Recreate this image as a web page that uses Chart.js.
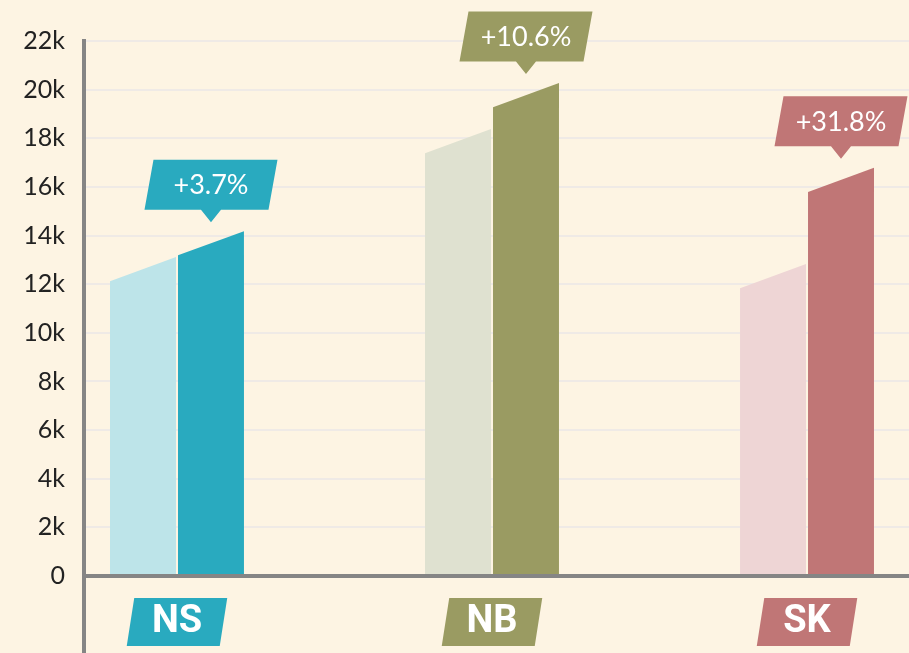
<!DOCTYPE html>
<html>
<head>
<meta charset="utf-8">
<script src="https://cdn.jsdelivr.net/npm/chart.js@4.4.0/dist/chart.umd.min.js"></script>
<style>
html,body{margin:0;padding:0;background:#fdf4e3;overflow:hidden}
#wrap{width:909px;height:653px;position:relative}
</style>
</head>
<body>
<div id="wrap"><canvas id="c"></canvas></div>
<script>
// ---- data ----
const categories = ['NS', 'NB', 'SK'];
const previousValues = [13250, 18570, 12960];
const currentValues = [14330, 20480, 16960];
const changeLabels = ['+3.7%', '+10.6%', '+31.8%'];
const yTickLabels = ['0', '2k', '4k', '6k', '8k', '10k', '12k', '14k', '16k', '18k', '20k', '22k'];

// ---- styles ----
const lightColors = ['#bde4e9', '#dfe1d0', '#eed5d5'];
const darkColors = ['#29aabf', '#9a9b62', '#c07676'];
const AXIS_COLOR = '#858585';
const GRID_COLOR = '#efeae6';
const SLANT_UNITS = 1000;

const slantBars = {
  id: 'slantBars',
  beforeDraw(chart) {
    const {ctx, width, height} = chart;
    ctx.save();
    ctx.fillStyle = '#fdf4e3';
    ctx.fillRect(0, 0, width, height);
    // category badges behind tick labels
    const xs = chart.scales.x;
    const cy = chart.chartArea.bottom + 46;
    const hw = 46.5, hh = 24, sk = 3.75;
    xs.ticks.forEach((t) => {
      const cx = xs.getPixelForValue(t.value);
      const idx = Math.round(t.value);
      ctx.fillStyle = darkColors[idx];
      ctx.beginPath();
      ctx.moveTo(cx - hw + sk, cy - hh);
      ctx.lineTo(cx + hw + sk, cy - hh);
      ctx.lineTo(cx + hw - sk, cy + hh);
      ctx.lineTo(cx - hw - sk, cy + hh);
      ctx.closePath();
      ctx.fill();
    });
    ctx.restore();
  },
  beforeDatasetDraw(chart, args) {
    const {ctx} = chart;
    const ys = chart.scales.y;
    const slant = ys.getPixelForValue(0) - ys.getPixelForValue(SLANT_UNITS);
    ctx.save();
    args.meta.data.forEach((bar) => {
      const p = bar.getProps(['x', 'y', 'base', 'width'], true);
      const l = p.x - p.width / 2, r = p.x + p.width / 2;
      ctx.fillStyle = bar.options.backgroundColor;
      ctx.beginPath();
      ctx.moveTo(l, p.base);
      ctx.lineTo(l, p.y + slant);
      ctx.lineTo(r, p.y);
      ctx.lineTo(r, p.base);
      ctx.closePath();
      ctx.fill();
    });
    ctx.restore();
    return false;
  },
  afterDatasetsDraw(chart) {
    const {ctx} = chart;
    const meta = chart.getDatasetMeta(1);
    ctx.save();
    meta.data.forEach((bar, i) => {
      const p = bar.getProps(['x', 'y'], true);
      const tipY = p.y - 9;
      const bottom = tipY - 12.5;
      const top = bottom - 50;
      const hw = 62, sk = 4.5;
      ctx.fillStyle = darkColors[i];
      ctx.beginPath();
      ctx.moveTo(p.x - hw + sk, top);
      ctx.lineTo(p.x + hw + sk, top);
      ctx.lineTo(p.x + hw - sk, bottom);
      ctx.lineTo(p.x + 10, bottom);
      ctx.lineTo(p.x, tipY);
      ctx.lineTo(p.x - 10, bottom);
      ctx.lineTo(p.x - hw - sk, bottom);
      ctx.closePath();
      ctx.fill();
      ctx.fillStyle = '#ffffff';
      ctx.font = '27px Lato';
      ctx.textAlign = 'center';
      ctx.textBaseline = 'middle';
      ctx.fillText(changeLabels[i], p.x, (top + bottom) / 2 + 1);
    });
    ctx.restore();
  },
  afterDraw(chart) {
    const {ctx, chartArea, height} = chart;
    ctx.save();
    ctx.strokeStyle = AXIS_COLOR;
    ctx.lineWidth = 4;
    ctx.beginPath();
    ctx.moveTo(chartArea.left, chartArea.bottom);
    ctx.lineTo(chartArea.left, height);
    ctx.stroke();
    ctx.restore();
  }
};

new Chart(document.getElementById('c'), {
  type: 'bar',
  data: {
    datasets: [
      {
        label: 'previous',
        data: categories.map((c, i) => ({x: i, y: previousValues[i]})),
        backgroundColor: lightColors
      },
      {
        label: 'current',
        data: categories.map((c, i) => ({x: i, y: currentValues[i]})),
        backgroundColor: darkColors
      }
    ]
  },
  options: {
    responsive: true,
    maintainAspectRatio: false,
    animation: false,
    categoryPercentage: 0.4317,
    barPercentage: 0.97,
    layout: {padding: {top: 41, left: 0, right: 0, bottom: 0}},
    plugins: {legend: {display: false}, tooltip: {enabled: false}},
    scales: {
      x: {
        type: 'linear',
        offset: false,
        min: -0.2952,
        max: 2.3238,
        afterFit: (s) => { s.height = 77; },
        grid: {display: false, drawTicks: false, offset: false},
        border: {display: true, color: AXIS_COLOR, width: 4, z: 1},
        ticks: {
          stepSize: 1,
          includeBounds: false,
          padding: 24,
          color: '#ffffff',
          font: {family: 'Roboto', weight: 'bold', size: 38},
          callback: (v) => categories[v] ?? ''
        }
      },
      y: {
        min: 0,
        max: 22230,
        afterFit: (s) => { s.width = 84; },
        grid: {color: GRID_COLOR, lineWidth: 2, drawTicks: false},
        border: {display: true, color: AXIS_COLOR, width: 4, z: 1},
        ticks: {
          stepSize: 2000,
          includeBounds: false,
          padding: 19,
          color: '#222222',
          font: {family: 'Lato', size: 25},
          callback: (v, i) => yTickLabels[i]
        }
      }
    }
  },
  plugins: [slantBars]
});
</script>
</body>
</html>
